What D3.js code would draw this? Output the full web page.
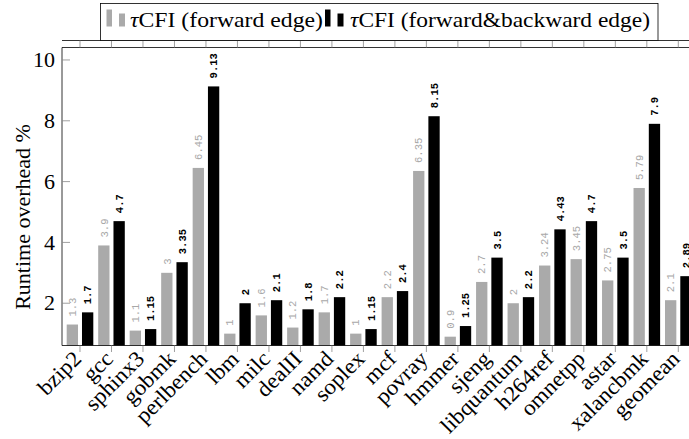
<!DOCTYPE html>
<html>
<head>
<meta charset="utf-8">
<script src="https://cdn.jsdelivr.net/npm/d3@7"></script>
<style>
  html, body { margin: 0; padding: 0; background: #fff; }
  svg { display: block; }
</style>
</head>
<body>
<svg id="chart" width="689" height="439"></svg>
<script>
const categories = ["bzip2","gcc","sphinx3","gobmk","perlbench","lbm","milc","dealII","namd","soplex","mcf","povray","hmmer","sjeng","libquantum","h264ref","omnetpp","astar","xalancbmk","geomean"];
const forwardEdge = [1.3,3.9,1.1,3,6.45,1,1.6,1.2,1.7,1,2.2,6.35,0.9,2.7,2,3.24,3.45,2.75,5.79,2.1];
const forwardBackward = [1.7,4.7,1.15,3.35,9.13,2,2.1,1.8,2.2,1.15,2.4,8.15,1.25,3.5,2.2,4.43,4.7,3.5,7.9,2.89];
const forwardLabels = ["1.3","3.9","1.1","3","6.45","1","1.6","1.2","1.7","1","2.2","6.35","0.9","2.7","2","3.24","3.45","2.75","5.79","2.1"];
const backwardLabels = ["1.7","4.7","1.15","3.35","9.13","2","2.1","1.8","2.2","1.15","2.4","8.15","1.25","3.5","2.2","4.43","4.7","3.5","7.9","2.89"];
const yTicks = [2,4,6,8,10];
const seriesNames = ["τCFI (forward edge)", "τCFI (forward&backward edge)"];

(function () {
const svg = d3.select("#chart");
const plotLeft = 62, plotTop = 47.5, plotBottom = 345.5;
const step = 31.49;
const pOuter = 0.0716;
const plotRight = plotLeft + step * (categories.length + 2 * pOuter);

const serif = "'Liberation Serif', 'Times New Roman', serif";
const mono = "'Liberation Mono', monospace";
const grayFill = "#aaaaaa";
const fs = 22;

const x = d3.scaleBand().domain(categories).range([plotLeft, plotRight]).paddingInner(0).paddingOuter(pOuter);
const x1 = d3.scaleBand().domain(["f","b"]).range([-13.3, 13.3]).paddingInner(0.26);
const y = d3.scaleLinear().domain([0.61, 10.41]).range([plotBottom, plotTop]);
const cx = c => x(c) + x.bandwidth() / 2;

const series = [
  {key: "f", values: forwardEdge, labels: forwardLabels, fill: grayFill, text: "#a8a8a8", weight: "normal"},
  {key: "b", values: forwardBackward, labels: backwardLabels, fill: "#000", text: "#000", weight: "bold"}
];

series.forEach(s => {
  svg.append("g").selectAll("rect").data(categories).join("rect")
    .attr("x", (c) => cx(c) + x1(s.key))
    .attr("width", x1.bandwidth())
    .attr("y", (c, i) => y(s.values[i]))
    .attr("height", (c, i) => plotBottom - y(s.values[i]))
    .attr("fill", s.fill);
  svg.append("g").selectAll("text").data(categories).join("text")
    .attr("transform", (c, i) => `translate(${cx(c) + x1(s.key) + x1.bandwidth()/2},${y(s.values[i]) - 8}) rotate(-90)`)
    .attr("dy", "0.35em")
    .attr("text-anchor", "start")
    .attr("font-family", mono)
    .attr("font-size", 10.5)
    .attr("font-weight", s.weight)
    .attr("fill", s.text)
    .text((c, i) => s.labels[i]);
});

const axisG = svg.append("g").attr("stroke", "#000").attr("stroke-width", 0.8).attr("fill", "none");
axisG.append("line").attr("x1", plotLeft).attr("x2", 689).attr("y1", plotBottom).attr("y2", plotBottom);
axisG.append("line").attr("x1", plotLeft).attr("x2", 689).attr("y1", plotTop).attr("y2", plotTop);
axisG.append("line").attr("x1", plotLeft).attr("x2", 689).attr("y1", 40.5).attr("y2", 40.5);
axisG.append("line").attr("x1", plotLeft).attr("x2", plotLeft).attr("y1", plotTop).attr("y2", plotBottom);

const tickG = svg.append("g").attr("stroke", "#888").attr("stroke-width", 0.8);
tickG.selectAll("line.b").data(categories).join("line")
  .attr("x1", cx).attr("x2", cx).attr("y1", plotBottom).attr("y2", plotBottom + 6.5);
tickG.selectAll("line.t").data(categories).join("line")
  .attr("x1", cx).attr("x2", cx).attr("y1", 40.5).attr("y2", plotTop);

svg.append("g").selectAll("text").data(categories).join("text")
  .attr("transform", c => `translate(${cx(c) - 2},${plotBottom + 10}) rotate(-45) scale(1.05,1)`)
  .attr("dy", "0.3em")
  .attr("text-anchor", "end")
  .attr("font-family", serif)
  .attr("font-size", fs)
  .attr("fill", "#000")
  .text(c => c);

svg.append("g").attr("stroke", "#888").attr("stroke-width", 0.8)
  .selectAll("line").data(yTicks).join("line")
  .attr("x1", plotLeft).attr("x2", plotLeft + 8).attr("y1", d => y(d)).attr("y2", d => y(d));
svg.append("g").selectAll("text").data(yTicks).join("text")
  .attr("x", 55).attr("y", d => y(d)).attr("dy", "0.33em")
  .attr("text-anchor", "end")
  .attr("font-family", serif).attr("font-size", fs).attr("fill", "#000")
  .text(d => d);

svg.append("text")
  .attr("transform", `translate(30,217) rotate(-90)`)
  .attr("text-anchor", "middle")
  .attr("font-family", serif).attr("font-size", fs).attr("fill", "#000")
  .text("Runtime overhead %");

const lg = svg.append("g");
lg.append("rect").attr("x", 100.5).attr("y", 3.5).attr("width", 557.5).attr("height", 37)
  .attr("fill", "#fff").attr("stroke", "#000").attr("stroke-width", 0.8);
const legendItems = [
  {fill: grayFill, x: 106.5, tx: 130, len: 193, name: seriesNames[0]},
  {fill: "#000", x: 325, tx: 350, len: 300, name: seriesNames[1]}
];
legendItems.forEach(it => {
  lg.append("rect").attr("x", it.x).attr("y", 9.5).attr("width", 5.5).attr("height", 17).attr("fill", it.fill);
  lg.append("rect").attr("x", it.x + 12.5).attr("y", 13.5).attr("width", 6).attr("height", 13).attr("fill", it.fill);
  const t = lg.append("text").attr("x", it.tx).attr("y", 27)
    .attr("textLength", it.len).attr("lengthAdjust", "spacingAndGlyphs")
    .attr("font-family", serif).attr("font-size", fs).attr("fill", "#000");
  t.append("tspan").attr("font-style", "italic").text(it.name.slice(0, 1));
  t.append("tspan").text(it.name.slice(1));
});
})();
</script>
</body>
</html>
